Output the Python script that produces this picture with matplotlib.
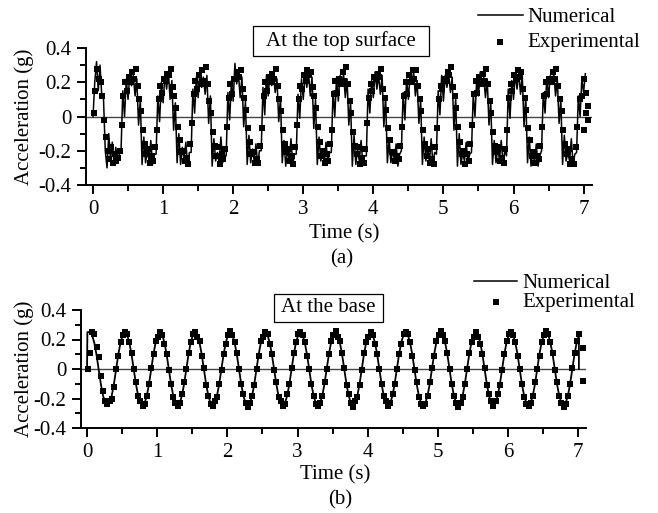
import numpy as np
import matplotlib
matplotlib.use("Agg")
import matplotlib.pyplot as plt
from matplotlib.lines import Line2D
from matplotlib.patches import Rectangle

plt.rcParams['font.family'] = ['Liberation Serif', 'DejaVu Serif']
plt.rcParams['font.size'] = 15

# ---------------- data (values in hundredths of g) ----------------
# (a) top surface, numerical: t = 0, 0.025, 0.05, ...
top_num_t0, top_num_dt = 0.0, 0.025
top_num = [
    0, 20, 32, 15, 30, 12, 10, -20, -30, -10, -25, -15, -28, -18, -26, -22,
    -20, 15, 0, 22, 10, 25, 18, 24, 12, 22, -5, 10, -28, -12, -27, -20, -26, -14, -28, -22,
    -22, 12, -3, 20, 8, 24, 16, 26, 10, 21, -8, 8, -27, -10, -28, -18, -25, -15, -29, -21,
    -21, 16, 2, 23, 11, 26, 17, 23, 13, 24, -4, 12, -29, -13, -26, -21, -27, -12, -27, -23,
    -23, 14, -2, 21, 9, 31, 19, 25, 11, 23, -6, 9, -28, -11, -27, -19, -26, -16, -28, -20,
    -20, 17, 1, 24, 12, 25, 18, 24, 14, 22, -3, 11, -27, -14, -29, -20, -25, -13, -28, -22,
    -22, 13, -1, 22, 10, 25, 17, 26, 12, 23, -7, 10, -28, -12, -26, -21, -27, -15, -27, -21,
    -21, 15, 0, 23, 9, 24, 18, 25, 11, 22, -5, 9, -29, -11, -28, -19, -26, -14, -28, -23,
    -23, 16, 2, 21, 11, 26, 16, 24, 13, 24, -6, 12, -27, -13, -27, -20, -25, -16, -29, -22,
    -20, 14, -2, 22, 10, 25, 19, 26, 12, 21, -4, 10, -28, -12, -26, -18, -27, -13, -28, -21,
    -22, 15, 1, 24, 9, 24, 17, 25, 14, 23, -8, 11, -29, -10, -28, -21, -26, -15, -27, -22,
    -21, 13, 0, 22, 12, 26, 18, 23, 11, 22, -5, 9, -28, -14, -27, -19, -25, -14, -28, -20,
    -23, 16, -1, 21, 10, 25, 16, 26, 13, 24, -6, 12, -27, -12, -29, -20, -27, -16, -29, -23,
    -20, 14, 2, 23, 11, 24, 19, 25, 12, 22, -4, 10, -28, -11, -26, -21, -26, -13, -28, -22,
    -21, 12, 0, 22, 14, 25,
]

# (a) top surface, experimental: t = 0.01, 0.035, ...
top_exp_t0, top_exp_dt = 0.01, 0.025
top_exp = [
    2, 15, 28, 22, 20, 12, -2, -12, -20, -25, -18, -27, -22, -26, -24, -20,
    -5, 12, 20, 15, 23, 20, 26, 22, 28, 18, 10, 3, -8, -16, -22, -19, -27, -23, -26, -18,
    -8, 10, 18, 14, 22, 21, 25, 24, 28, 17, 12, 5, -6, -14, -21, -20, -26, -24, -28, -16,
    -4, 13, 21, 16, 24, 19, 27, 21, 29, 19, 9, 2, -9, -17, -23, -18, -28, -22, -25, -19,
    -6, 11, 19, 13, 22, 22, 26, 23, 27, 16, 11, 4, -7, -15, -22, -21, -27, -25, -27, -17,
    -7, 12, 20, 15, 23, 20, 25, 22, 28, 18, 10, 3, -8, -16, -21, -19, -26, -23, -28, -18,
    -5, 10, 18, 16, 24, 21, 27, 24, 26, 17, 12, 5, -6, -15, -23, -20, -27, -22, -26, -16,
    -8, 13, 21, 14, 22, 19, 26, 21, 29, 19, 9, 2, -9, -17, -22, -18, -28, -24, -27, -19,
    -4, 11, 19, 15, 23, 22, 25, 23, 28, 16, 11, 4, -7, -14, -21, -21, -26, -23, -25, -17,
    -6, 12, 20, 13, 24, 20, 27, 22, 27, 18, 10, 3, -8, -16, -23, -19, -27, -25, -28, -18,
    -7, 10, 18, 16, 22, 21, 26, 24, 29, 17, 12, 5, -6, -15, -22, -20, -28, -22, -26, -16,
    -5, 13, 21, 14, 23, 19, 25, 21, 28, 19, 9, 2, -9, -17, -21, -18, -26, -24, -27, -19,
    -8, 11, 19, 15, 24, 22, 27, 23, 26, 16, 11, 4, -7, -14, -23, -21, -27, -23, -25, -17,
    -6, 12, 20, 13, 22, 20, 26, 22, 28, 18, 10, 3, -8, -16, -22, -19, -28, -25, -28, -18,
]
top_exp_tail_t = [6.91, 6.95, 6.98, 7.00, 7.04, 7.06, 7.07, 7.00, 7.03]
top_exp_tail = [-6, 10, 12, 22, 2, 6, -2, -8, 14]

# (b) base, numerical: t = 0.04, 0.04 + 1/32, ...
base_num_head_t = [0.0, 0.005]
base_num_head = [0, 25]
base_num_t0, base_num_dt = 0.04, 0.03125
base_num = [
    25, 23, 18, 10, 0, -10, -18, -23, -25, -23, -18, -10, 0, 10, 18, 23,
    25, 23, 18, 10, 0, -10, -18, -23, -25, -23, -18, -10, 0, 10, 18, 23,
    25, 23, 18, 10, 0, -10, -18, -23, -25, -23, -18, -10, 0, 10, 18, 23,
    25, 23, 18, 10, 0, -10, -18, -23, -25, -23, -18, -10, 0, 10, 18, 23,
    25, 23, 18, 10, 0, -10, -18, -23, -25, -23, -18, -10, 0, 10, 18, 23,
    25, 23, 18, 10, 0, -10, -18, -23, -25, -23, -18, -10, 0, 10, 18, 23,
    25, 23, 18, 10, 0, -10, -18, -23, -25, -23, -18, -10, 0, 10, 18, 23,
    25, 23, 18, 10, 0, -10, -18, -23, -25, -23, -18, -10, 0, 10, 18, 23,
    25, 23, 18, 10, 0, -10, -18, -23, -25, -23, -18, -10, 0, 10, 18, 23,
    25, 23, 18, 10, 0, -10, -18, -23, -25, -23, -18, -10, 0, 10, 18, 23,
    25, 23, 18, 10, 0, -10, -18, -23, -25, -23, -18, -10, 0, 10, 18, 23,
    25, 23, 18, 10, 0, -10, -18, -23, -25, -23, -18, -10, 0, 10, 18, 23,
    25, 23, 18, 10, 0, -10, -18, -23, -25, -23, -18, -10, 0, 10, 18, 23,
    25, 23, 18, 10, 0, -10, -18, -23, -25, -23, -18, -10, 0, 10, 18, 23,
]
base_num_tail_t = [7.009]
base_num_tail = [0]

# (b) base, experimental: t = 0.01, 0.01 + 1/32, ...
base_exp_t0, base_exp_dt = 0.01, 0.03125
base_exp = [
    0, 11, 25, 24, 15, 8, -5, -15, -22, -24, -22, -20, -12, 0, 9, 18,
    23, 25, 24, 18, 11, 0, -9, -18, -22, -25, -24, -18, -10, 1, 10, 19,
    22, 25, 23, 17, 10, -1, -10, -19, -23, -25, -23, -17, -9, 0, 11, 18,
    24, 25, 22, 19, 9, 1, -11, -18, -24, -25, -22, -19, -10, -1, 10, 17,
    23, 26, 23, 18, 11, 0, -10, -17, -23, -26, -23, -18, -11, 0, 9, 19,
    22, 25, 24, 17, 10, -1, -9, -19, -22, -25, -24, -17, -10, 1, 11, 18,
    24, 25, 23, 18, 9, 0, -10, -18, -24, -25, -23, -18, -9, 0, 10, 19,
    23, 26, 22, 19, 11, 1, -11, -17, -23, -26, -22, -19, -11, -1, 11, 18,
    22, 25, 23, 17, 10, 0, -10, -18, -22, -25, -23, -17, -10, 0, 10, 17,
    24, 25, 24, 18, 9, -1, -9, -19, -24, -25, -24, -18, -9, 1, 9, 19,
    23, 26, 23, 19, 11, 0, -10, -18, -23, -26, -23, -19, -10, 0, 11, 18,
    22, 25, 22, 17, 10, 1, -11, -17, -22, -25, -22, -17, -11, -1, 10, 19,
    24, 25, 23, 18, 9, 0, -10, -19, -24, -25, -23, -18, -9, 0, 9, 18,
    23, 26, 24, 18, 11, -1, -9, -18, -23, -26, -24, -18, -10, 1, 11, 19,
]
base_exp_tail_t = [7.01, 7.07, 7.07]
base_exp_tail = [24, 14, -8]

x_ticks = [0, 1, 2, 3, 4, 5, 6, 7]
y_ticks = [-0.4, -0.2, 0.0, 0.2, 0.4]
y_ticklabels = ['-0.4', '-0.2', '0', '0.2', '0.4']

MS = 4.9
LW = 1.1


def g(v):
    return np.asarray(v, dtype=float) / 100.0


def grid(t0, dt, n):
    return t0 + dt * np.arange(n)


# ---------------- figure ----------------
W, H = 658, 513
fig = plt.figure(figsize=(W / 100, H / 100), dpi=100)


def axes_px(l, r, b, t):
    return fig.add_axes([l / W, 1 - b / H, (r - l) / W, (b - t) / H])


def style(ax, xlim):
    ax.set_xlim(*xlim)
    ax.set_ylim(-0.4, 0.4)
    for s in ['top', 'right']:
        ax.spines[s].set_visible(False)
    for s in ['left', 'bottom']:
        ax.spines[s].set_linewidth(1.4)
    ax.set_xticks(x_ticks)
    ax.set_xticks(np.array(x_ticks[:-1]) + 0.5, minor=True)
    ax.set_yticks(y_ticks)
    ax.set_yticklabels(y_ticklabels)
    ax.set_yticks([-0.3, -0.1, 0.1, 0.3], minor=True)
    ax.tick_params(which='major', direction='out', length=6.5, width=1.4,
                   labelsize=15, pad=4)
    ax.tick_params(which='minor', direction='out', length=4, width=1.4)
    ax.axhline(0, color='#444444', lw=1.0, zorder=1)


ax1 = axes_px(86, 592, 185, 48)
style(ax1, (-0.1, 7.12))
ax1.plot(grid(top_num_t0, top_num_dt, len(top_num)), g(top_num),
         color='black', lw=LW, zorder=2)
ax1.plot(grid(top_exp_t0, top_exp_dt, len(top_exp)), g(top_exp), 's',
         color='black', ms=MS, mew=0, zorder=3)
ax1.plot(top_exp_tail_t, g(top_exp_tail), 's', color='black', ms=MS, mew=0,
         zorder=3, clip_on=False)

ax2 = axes_px(81, 586, 428, 310)
style(ax2, (-0.086, 7.11))
bt = np.concatenate([base_num_head_t,
                     grid(base_num_t0, base_num_dt, len(base_num)),
                     base_num_tail_t])
bv = np.concatenate([g(base_num_head), g(base_num), g(base_num_tail)])
bt[-1] = bt[-2]
ax2.plot(bt, bv, color='black', lw=LW + 0.2, zorder=2)
ax2.plot(grid(base_exp_t0, base_exp_dt, len(base_exp)), g(base_exp), 's',
         color='black', ms=MS, mew=0, zorder=3)
ax2.plot(base_exp_tail_t, g(base_exp_tail), 's', color='black', ms=MS, mew=0,
         zorder=3, clip_on=False)

# labels
fs = 15
fig.text(24 / W, 1 - 116.5 / H, 'Acceleration (g)', rotation=90,
         ha='center', va='center', fontsize=fs)
fig.text(24 / W, 1 - 369 / H, 'Acceleration (g)', rotation=90,
         ha='center', va='center', fontsize=fs)
fig.text(344 / W, 1 - 234 / H, 'Time (s)', ha='center', va='center', fontsize=fs)
fig.text(342 / W, 1 - 259 / H, '(a)', ha='center', va='center', fontsize=fs)
fig.text(335 / W, 1 - 475 / H, 'Time (s)', ha='center', va='center', fontsize=fs)
fig.text(340 / W, 1 - 500 / H, '(b)', ha='center', va='center', fontsize=fs)

# title boxes
for (l, r, t, b, txt) in [(253, 429, 26, 56, 'At the top surface'),
                          (274, 383, 294, 322, 'At the base')]:
    fig.add_artist(Rectangle((l / W, 1 - b / H), (r - l) / W, (b - t) / H,
                             transform=fig.transFigure, fill=False,
                             ec='black', lw=0.9))
    fig.text((l + r) / 2 / W, 1 - (t + b) / 2 / H, txt, ha='center',
             va='center', fontsize=fs)

# legends
for (x0, x1, yl, xm, ym, xt) in [(478, 523, 15, 500, 42, 527),
                                 (474, 517, 281, 496, 302, 522)]:
    fig.add_artist(Line2D([x0 / W, x1 / W], [1 - yl / H, 1 - yl / H],
                          transform=fig.transFigure, color='black', lw=1.1))
    fig.add_artist(Line2D([xm / W], [1 - ym / H], transform=fig.transFigure,
                          marker='s', ms=MS, mew=0, color='black', ls='none'))
    fig.text(xt / W, 1 - (yl + 3) / H, 'Numerical', ha='left', va='center',
             fontsize=fs)
    fig.text(xt / W, 1 - (ym + 1) / H, 'Experimental', ha='left', va='center',
             fontsize=fs)

fig.savefig('out.png', dpi=100)
